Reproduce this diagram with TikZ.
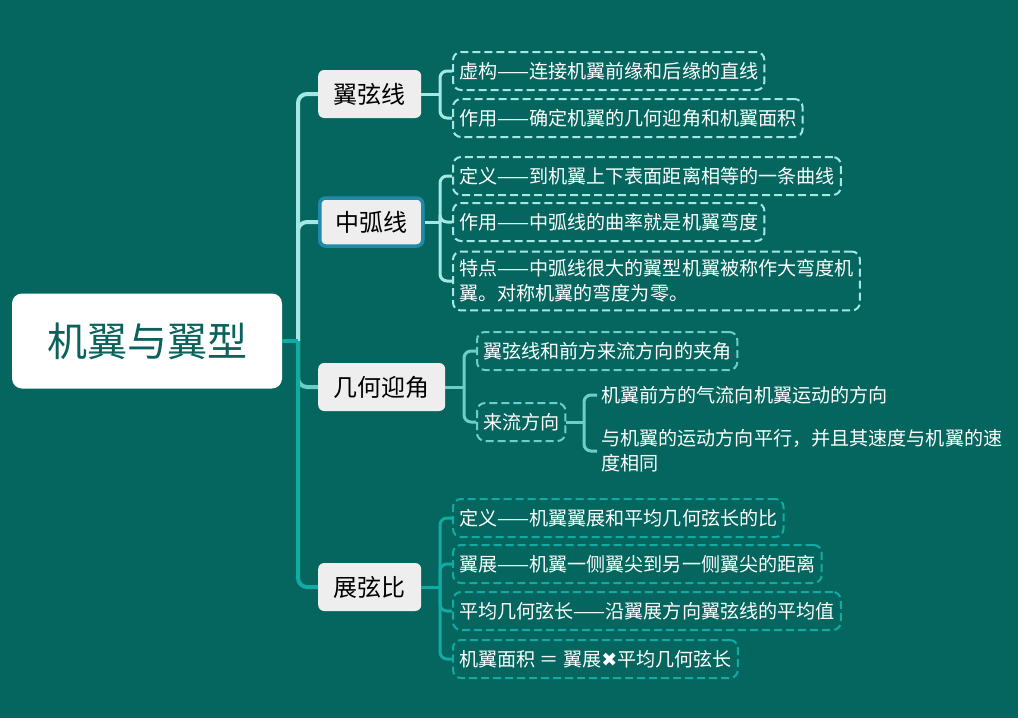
\documentclass[tikz,border=0pt]{standalone}
\usepackage{fontspec}
\setmainfont{Noto Sans CJK SC}
\newfontfamily\symfont{DejaVu Sans}
\usetikzlibrary{positioning}

\definecolor{bg}{HTML}{05665F}
\definecolor{lineA}{HTML}{A3E8E5}
\definecolor{lineB}{HTML}{6CCFC7}
\definecolor{lineC}{HTML}{12AAA2}
\definecolor{rootText}{HTML}{0B625C}
\definecolor{selBlue}{HTML}{1F8BA9}
\definecolor{topicGray}{HTML}{EEEEEE}

\tikzset{
  topic/.style={fill=topicGray, rounded corners=6pt, anchor=west, minimum height=48pt,
    inner xsep=15.5pt, text=black, font=\fontsize{24}{28}\selectfont},
  leaf/.style={draw=#1, dash pattern=on 8pt off 4pt, line width=2pt, rounded corners=8pt,
    anchor=west, minimum height=38pt, inner xsep=6pt, inner ysep=8pt, text=white,
    align=left, font=\fontsize{19.1}{25}\selectfont},
  plain/.style={anchor=west, inner xsep=4pt, text=white, align=left,
    font=\fontsize{19.1}{25}\selectfont},
  wire/.style={line width=3pt, draw=#1, rounded corners=7pt},
  trunk/.style={line width=4pt, draw=#1, rounded corners=9pt}
}

\begin{document}
\begin{tikzpicture}[x=1pt,y=-1pt]
  \fill[bg] (0,0) rectangle (1018,718);

  % root and main topics
  \node[fill=white, rounded corners=10pt, minimum width=270pt, minimum height=95pt,
    text=rootText, font=\fontsize{40}{44}\selectfont] (root) at (147,341) {机翼与翼型};
  \node[topic] (chord) at (318,94) {翼弦线};
  \node[topic, draw=selBlue, line width=3.5pt] (camber) at (318,222) {中弧线};
  \node[topic] (aoa) at (318,387) {几何迎角};
  \node[topic] (ratio) at (318,587) {展弦比};

  % 翼弦线
  \node[leaf=lineA] (chord1) at (452,71) {虚构——连接机翼前缘和后缘的直线};
  \node[leaf=lineA] (chord2) at (452,118) {作用——确定机翼的几何迎角和机翼面积};

  % 中弧线
  \node[leaf=lineA] (camber1) at (452,176) {定义——到机翼上下表面距离相等的一条曲线};
  \node[leaf=lineA] (camber2) at (452,222) {作用——中弧线的曲率就是机翼弯度};
  \node[leaf=lineA] (camber3) at (452,281) {特点——中弧线很大的翼型机翼被称作大弯度机\\翼。对称机翼的弯度为零。};

  % 几何迎角
  \node[leaf=lineB] (aoa1) at (476,351) {翼弦线和前方来流方向的夹角};
  \node[leaf=lineB] (flow) at (476,422) {来流方向};
  \node[plain] (flow1) at (597,395) {机翼前方的气流向机翼运动的方向};
  \node[plain] (flow2) at (597,451) {与机翼的运动方向平行，并且其速度与机翼的速\\度相同};

  % 展弦比
  \node[leaf=lineC] (ratio1) at (452,518) {定义——机翼翼展和平均几何弦长的比};
  \node[leaf=lineC] (ratio2) at (452,564) {翼展——机翼一侧翼尖到另一侧翼尖的距离};
  \node[leaf=lineC] (ratio3) at (452,611) {平均几何弦长——沿翼展方向翼弦线的平均值};
  \node[leaf=lineC] (ratio4) at (452,659) {机翼面积 ＝ 翼展{\symfont ✖}平均几何弦长};

  % trunk
  \coordinate (hub) at (298,341);
  \draw[trunk=lineA] (hub) |- (chord.west);
  \draw[trunk=lineA] (hub) |- (camber.west);
  \draw[trunk=lineB] (hub) |- (aoa.west);
  \draw[trunk=lineC] (hub) |- (ratio.west);
  \draw[trunk=lineC] (root.east) -- (hub);

  % branches
  \coordinate (chordJ) at (440,94);
  \draw[wire=lineA] (chord.east) -- (chordJ);
  \foreach \n in {chord1,chord2}
    \draw[wire=lineA] (chordJ) |- (\n.west);

  \coordinate (camberJ) at (440,222);
  \draw[wire=lineA] (camber.east) -- (camberJ);
  \foreach \n in {camber1,camber2,camber3}
    \draw[wire=lineA] (camberJ) |- (\n.west);

  \coordinate (aoaJ) at (464,387);
  \draw[wire=lineB] (aoa.east) -- (aoaJ);
  \foreach \n in {aoa1,flow}
    \draw[wire=lineB] (aoaJ) |- (\n.west);

  \coordinate (flowJ) at (584,422);
  \draw[wire=lineB] (flow.east) -- (flowJ);
  \foreach \n in {flow1,flow2}
    \draw[wire=lineB] (flowJ) |- (\n.west);

  \coordinate (ratioJ) at (440,587);
  \draw[wire=lineC] (ratio.east) -- (ratioJ);
  \foreach \n in {ratio1,ratio2,ratio3,ratio4}
    \draw[wire=lineC] (ratioJ) |- (\n.west);
\end{tikzpicture}
\end{document}
